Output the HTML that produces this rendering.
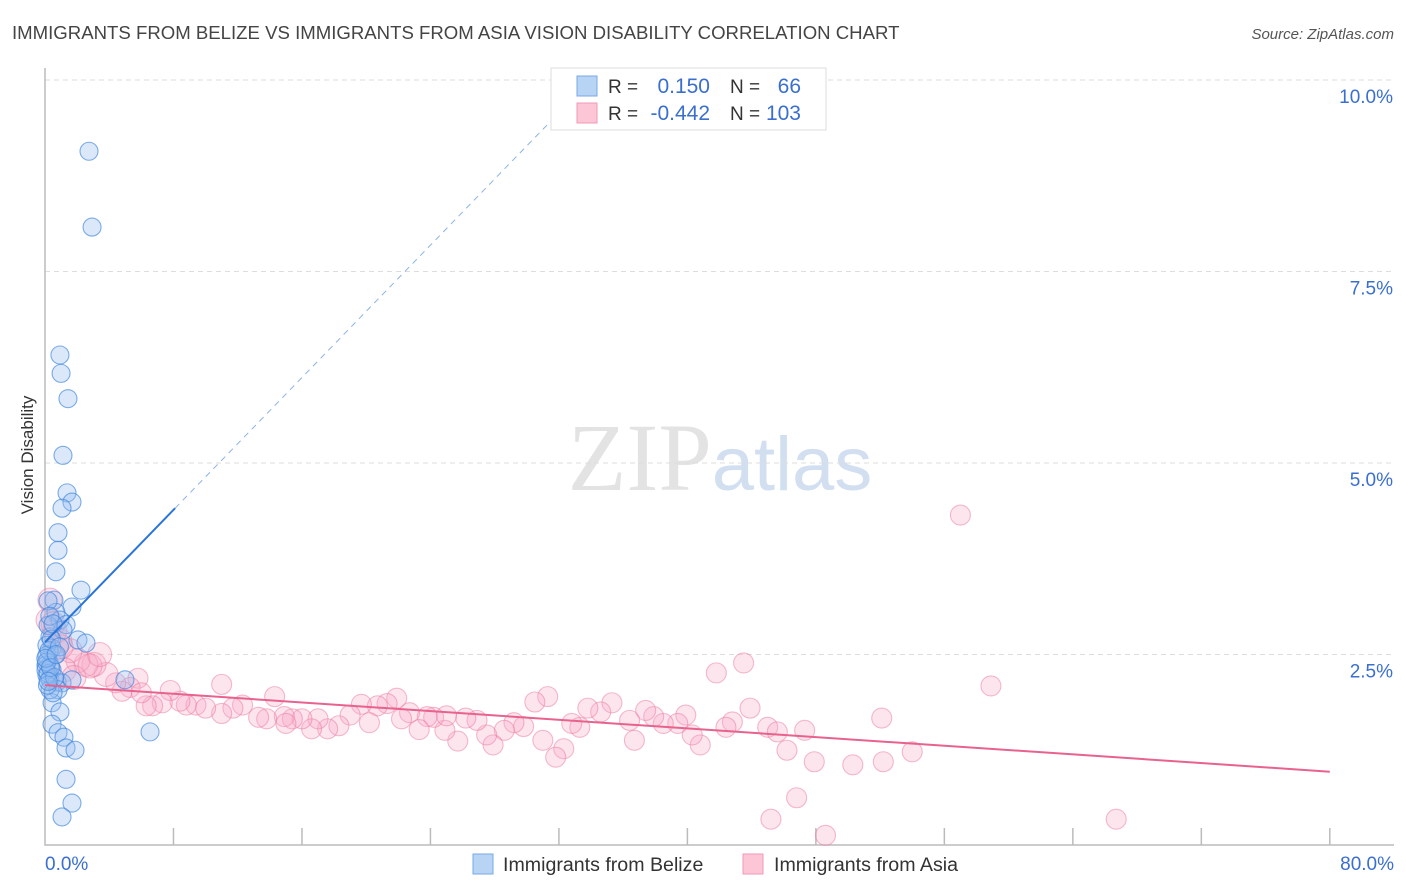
<!DOCTYPE html>
<html><head><meta charset="utf-8"><style>
body{margin:0;background:#fff;font-family:"Liberation Sans",sans-serif}
svg{display:block}
</style></head><body>
<svg id="chart" width="1406" height="892" xmlns="http://www.w3.org/2000/svg">
<text x="12" y="39" font-size="18.6" fill="#444">IMMIGRANTS FROM BELIZE VS IMMIGRANTS FROM ASIA VISION DISABILITY CORRELATION CHART</text>
<text x="1394" y="39" font-size="15" fill="#555" font-style="italic" text-anchor="end">Source: ZipAtlas.com</text>
<text x="720" y="490" font-size="96" text-anchor="middle" font-family="Liberation Serif" fill="#ddd" opacity="0.8">ZIP<tspan fill="#c8d8ee" font-family="Liberation Sans" font-size="76">atlas</tspan></text>
<g id="grid"></g>
<g id="axes"></g>
<g id="pts"></g>
<g id="trend"></g>
<text transform="translate(33,455) rotate(-90)" font-size="17" fill="#333" text-anchor="middle">Vision Disability</text>
<g>
<rect x="551" y="68" width="275" height="62" fill="#fff" stroke="#ddd"/>
<rect x="577" y="76" width="20" height="20" fill="#b8d4f5" stroke="#7aa8e8"/>
<rect x="577" y="103" width="20" height="20" fill="#fcc6d6" stroke="#f09ab4"/>
<text x="608" y="93" font-size="19" fill="#333">R = </text><text x="710" y="93" font-size="21" fill="#3a6fd0" text-anchor="end">0.150</text>
<text x="730" y="93" font-size="19" fill="#333">N = </text><text x="801" y="93" font-size="21" fill="#3a6fd0" text-anchor="end">66</text>
<text x="608" y="120" font-size="19" fill="#333">R = </text><text x="710" y="120" font-size="21" fill="#3a6fd0" text-anchor="end">-0.442</text>
<text x="730" y="120" font-size="19" fill="#333">N = </text><text x="801" y="120" font-size="21" fill="#3a6fd0" text-anchor="end">103</text>
</g>
<g>
<rect x="473" y="854" width="20" height="20" fill="#b8d4f5" stroke="#7aa8e8"/>
<text x="503" y="871" font-size="19.6" fill="#333">Immigrants from Belize</text>
<rect x="743" y="854" width="20" height="20" fill="#fcc6d6" stroke="#f09ab4"/>
<text x="774" y="871" font-size="19.6" fill="#333">Immigrants from Asia</text>
</g>
</svg>
<script>
const yTicks=[2.5,5.0,7.5,10.0];
const yTickLabels=["2.5%","5.0%","7.5%","10.0%"];
const xTicks=[0,8,16,24,32,40,48,56,64,72,80];
const xLabels=["0.0%","80.0%"];
const belizeX=[2.74,2.93,0.93,1.0,1.43,1.12,1.37,1.68,1.06,0.81,0.81,0.68,2.24,0.56,1.68,0.68,0.93,1.31,1.12,0.31,2.05,2.55,0.44,0.62,0.19,0.31,0.44,0.12,0.31,0.75,1.06,1.68,4.98,0.81,0.44,0.93,0.44,0.81,1.18,1.31,1.87,6.54,1.31,1.68,1.06,0.19,0.19,0.12,0.12,0.06,0.06,0.31,0.5,0.2,0.1,0.25,0.4,0.15,0.6,0.9,0.3,0.5,0.05,0.35,0.7,0.2];
const belizeY=[9.07,8.08,6.41,6.17,5.84,5.10,4.61,4.49,4.41,4.09,3.86,3.58,3.34,3.21,3.12,3.05,2.95,2.89,2.82,2.73,2.69,2.65,2.58,2.49,2.43,2.36,2.30,2.23,2.17,2.14,2.13,2.17,2.17,2.04,1.87,1.75,1.59,1.48,1.42,1.28,1.25,1.49,0.87,0.56,0.38,3.2,2.88,2.62,2.49,2.36,2.30,2.04,2.0,2.25,2.4,2.55,2.7,2.1,2.2,2.6,3.0,2.9,2.45,2.33,2.5,2.15];
const asiaX=[57.0,58.9,43.5,41.8,52.1,54.0,52.2,50.3,47.9,46.8,45.2,48.6,66.7,46.2,47.3,43.9,42.8,42.4,45.0,45.6,40.8,40.3,39.9,39.4,38.5,37.9,37.4,36.7,36.4,35.3,34.6,33.8,33.3,32.8,32.3,31.8,31.3,30.5,31.0,29.8,29.2,28.6,27.9,27.5,26.9,26.2,25.7,24.9,24.2,23.8,23.3,22.7,22.2,21.9,21.3,20.7,20.2,19.7,19.0,18.3,17.6,17.0,16.6,16.0,15.4,14.9,14.3,13.8,13.3,12.3,11.7,11.0,11.0,9.4,8.8,8.4,7.8,7.3,6.7,6.3,5.79,5.3,4.8,4.4,3.8,3.05,2.55,2.05,1.56,0.93,0.62,0.31,0.19,1.2,1.8,2.8,3.4,0.5,1.0,6.0,10.0,15.0,25.0];
const asiaY=[4.32,2.09,2.39,2.26,1.67,1.23,1.10,1.06,1.10,0.63,0.35,0.14,0.35,1.25,1.51,1.80,1.62,1.55,1.55,1.49,1.32,1.45,1.71,1.60,1.60,1.69,1.77,1.38,1.64,1.87,1.75,1.80,1.55,1.60,1.27,1.16,1.95,1.88,1.38,1.56,1.61,1.51,1.32,1.45,1.64,1.67,1.37,1.51,1.68,1.69,1.52,1.74,1.66,1.93,1.86,1.83,1.61,1.85,1.71,1.57,1.53,1.66,1.53,1.66,1.66,1.69,1.95,1.66,1.68,1.84,1.80,2.11,1.73,1.84,1.84,1.89,2.03,1.87,1.83,1.83,2.19,2.07,2.02,2.13,2.24,2.37,2.37,2.42,2.55,2.68,2.81,3.21,2.95,2.3,2.2,2.35,2.5,2.9,2.6,2.0,1.8,1.6,1.7];
const belizeTrend=[2.66,0.216];
const asiaTrend=[2.10,0.97];
const X=v=>45+v*16.06, Y=v=>846-v*76.6;
const NS="http://www.w3.org/2000/svg";
function mk(t,a,p){const e=document.createElementNS(NS,t);for(const k in a)e.setAttribute(k,a[k]);document.getElementById(p).appendChild(e);return e;}
yTicks.forEach((v,i)=>{
 const l=mk('line',{x1:45,x2:1394,y1:Y(v),y2:Y(v),stroke:'#ddd','stroke-dasharray':'5,4'},'grid');
 
 
 const t=mk('text',{x:1393,y:Y(v)+23,'font-size':19,fill:'#3a6fd0','text-anchor':'end'},'grid');t.textContent=yTickLabels[i];
 
 
});
const ax=mk('path',{d:`M45,68V845H1394`,fill:'none',stroke:'#bbb','stroke-width':1.5},'axes');


xTicks.forEach(v=>{if(v===0)return;const t=mk('line',{x1:X(v),x2:X(v),y1:828,y2:845,stroke:'#bbb','stroke-width':1.5},'axes');
 
 });
[[0,'start',45],[80,'end',1394]].forEach((a,i)=>{const t=mk('text',{x:a[2],y:870,'font-size':19,fill:'#3a6fd0','text-anchor':a[1]},'axes');t.textContent=xLabels[i];
 
 });
asiaX.forEach((x,i)=>{const c=mk('circle',{cx:X(x),cy:Y(asiaY[i]),r:x<4?12:10,fill:'rgba(248,170,198,0.3)',stroke:'rgba(235,120,158,0.5)','stroke-width':1.1},'pts');
 
 });
belizeX.forEach((x,i)=>{const c=mk('circle',{cx:X(x),cy:Y(belizeY[i]),r:9,fill:'rgba(150,190,240,0.35)',stroke:'rgba(60,130,220,0.65)','stroke-width':1.1},'pts');
 
 });
const bx=8.1, bEnd=(9.8-belizeTrend[0])/belizeTrend[1];
let l=mk('line',{x1:X(0),y1:Y(belizeTrend[0]),x2:X(bx),y2:Y(belizeTrend[0]+belizeTrend[1]*bx),stroke:'#2a74d8','stroke-width':2},'trend');


l=mk('line',{x1:X(bx),y1:Y(belizeTrend[0]+belizeTrend[1]*bx),x2:X(bEnd),y2:Y(9.8),stroke:'#8ab4e8','stroke-width':1,'stroke-dasharray':'6,5'},'trend');


l=mk('line',{x1:X(0),y1:Y(asiaTrend[0]),x2:X(80),y2:Y(asiaTrend[1]),stroke:'#e8628e','stroke-width':2},'trend');


</script>
</body></html>
